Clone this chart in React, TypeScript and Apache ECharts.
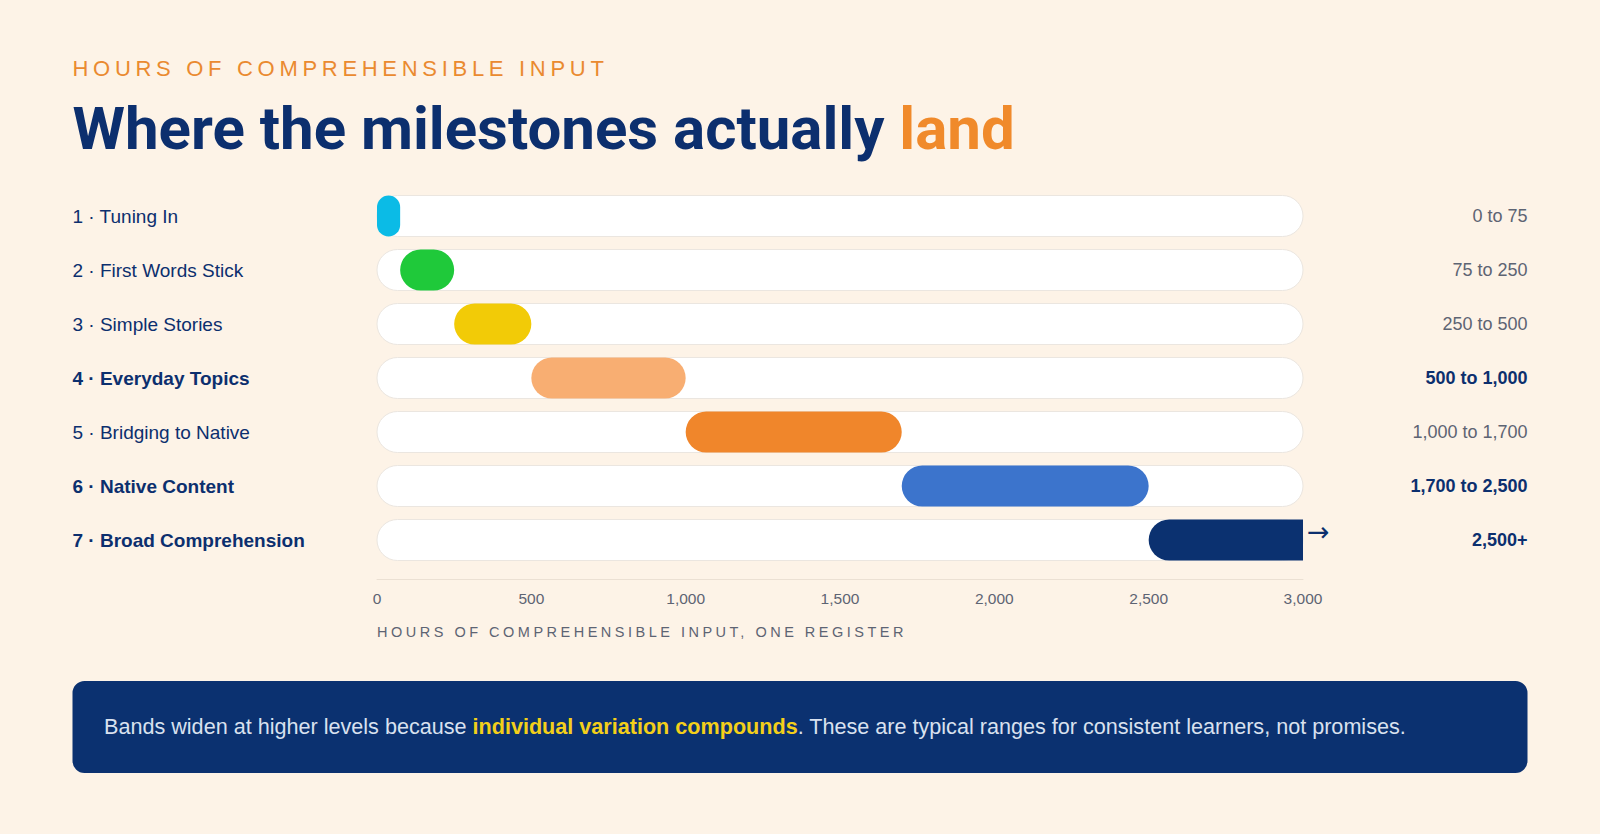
import React, { useEffect, useRef } from 'react';
import * as echarts from 'echarts';

// milestone bands, hours of comprehensible input
const stages = [
  '1 · Tuning In',
  '2 · First Words Stick',
  '3 · Simple Stories',
  '4 · Everyday Topics',
  '5 · Bridging to Native',
  '6 · Native Content',
  '7 · Broad Comprehension',
];
const bandStart = [0, 75, 250, 500, 1000, 1700, 2500];
const bandEnd = [75, 250, 500, 1000, 1700, 2500, 3000]; // last band is open-ended, capped at axis max
const openEnded = [false, false, false, false, false, false, true];
const rangeLabels = ['0 to 75', '75 to 250', '250 to 500', '500 to 1,000', '1,000 to 1,700', '1,700 to 2,500', '2,500+'];
const highlighted = [false, false, false, true, false, true, true];
const bandColors = ['#0bbbe6', '#1fc93a', '#f2cb07', '#f8ae72', '#f0862b', '#3c74cc', '#0b3170'];

const NAVY = '#0c2f6e';
const GREY = '#5d6473';
const FONT = '"Liberation Sans", Arial, sans-serif';

const SUBTITLE = 'HOURS OF COMPREHENSIBLE INPUT';
const AXIS_NAME = 'HOURS OF COMPREHENSIBLE INPUT, ONE REGISTER';

// zrender has no letter-spacing, so set it on the svg texts afterwards
const SPACING: { [key: string]: string } = {
  [SUBTITLE]: '4.7',
  [AXIS_NAME]: '3.5',
};

const App: React.FC = () => {
  const chartRef = useRef<HTMLDivElement>(null);

  useEffect(() => {
    if (!chartRef.current) return;
    const chart = echarts.init(chartRef.current, undefined, { renderer: 'svg' });

    const barH = 41;
    const radius = barH / 2;

    const options: echarts.EChartsOption = {
      animation: false,
      backgroundColor: '#fdf3e7',
      textStyle: { fontFamily: FONT },
      grid: { left: 377, right: 297, top: 189, height: 378 },
      xAxis: {
        type: 'value',
        min: 0,
        max: 3000,
        interval: 500,
        offset: 12,
        axisLine: { show: true, lineStyle: { color: '#ebe0d3', width: 1 } },
        axisTick: { show: false },
        splitLine: { show: false },
        axisLabel: {
          color: GREY,
          fontSize: 15.5,
          margin: 11,
          formatter: (v: number) => v.toLocaleString('en-US'),
        },
      },
      yAxis: [
        {
          type: 'category',
          data: stages,
          inverse: true,
          axisLine: { show: false },
          axisTick: { show: false },
          axisLabel: {
            align: 'left',
            margin: 304.5,
            formatter: (v: string, i: number) => (highlighted[i] ? `{b|${v}}` : `{n|${v}}`),
            rich: {
              n: { fontSize: 19, color: NAVY, fontFamily: FONT },
              b: { fontSize: 19, color: NAVY, fontWeight: 'bold', fontFamily: FONT },
            },
          },
        },
        {
          type: 'category',
          data: rangeLabels,
          inverse: true,
          position: 'right',
          axisLine: { show: false },
          axisTick: { show: false },
          axisLabel: {
            align: 'right',
            margin: 224.6,
            formatter: (v: string, i: number) => (highlighted[i] ? `{b|${v}}` : `{n|${v}}`),
            rich: {
              n: { fontSize: 18, color: GREY, fontFamily: FONT },
              b: { fontSize: 18, color: NAVY, fontWeight: 'bold', fontFamily: FONT },
            },
          },
        },
      ],
      series: [
        {
          type: 'bar',
          stack: 'band',
          barWidth: barH,
          silent: true,
          data: bandStart,
          itemStyle: { color: 'transparent' },
          showBackground: true,
          backgroundStyle: {
            color: '#ffffff',
            borderColor: '#ebe6e0',
            borderWidth: 1,
            borderRadius: radius,
          },
        },
        {
          type: 'bar',
          stack: 'band',
          barWidth: barH,
          data: bandEnd.map((end, i) => ({
            value: end - bandStart[i],
            itemStyle: {
              color: bandColors[i],
              borderRadius: openEnded[i] ? [radius, 0, 0, radius] : radius,
            },
            label: openEnded[i]
              ? {
                  show: true,
                  position: 'right',
                  distance: 4,
                  offset: [0, -9],
                  formatter: '→',
                  color: NAVY,
                  fontSize: 27,
                  fontFamily: 'DejaVu Sans',
                }
              : { show: false },
          })),
        },
      ],
      graphic: [
        {
          type: 'text',
          x: 72.5,
          y: 68.5,
          style: {
            text: SUBTITLE,
            fontSize: 22,
            fontFamily: FONT,
            fill: '#ea8a30',
            verticalAlign: 'middle',
          },
        },
        {
          type: 'text',
          x: 72.5,
          y: 128.5,
          style: {
            text: 'Where the milestones actually {o|land}',
            fontSize: 60,
            fontWeight: 'bold',
            fontFamily: 'Roboto',
            fill: NAVY,
            verticalAlign: 'middle',
            rich: {
              o: { fontSize: 60, fontWeight: 'bold', fontFamily: 'Roboto', fill: '#f08a2b' },
            },
          },
        },
        {
          type: 'text',
          x: 377,
          y: 632,
          style: {
            text: AXIS_NAME,
            fontSize: 14.5,
            fontFamily: FONT,
            fill: GREY,
            verticalAlign: 'middle',
          },
        },
        {
          type: 'rect',
          shape: { x: 72.5, y: 681, width: 1455, height: 92, r: 12 },
          style: { fill: '#0b3170' },
        },
        {
          type: 'text',
          x: 104,
          y: 726,
          style: {
            text:
              '{n|Bands widen at higher levels because }{y|individual variation compounds}{n|. These are typical ranges for consistent learners, not promises.}',
            fontSize: 21.6,
            fontFamily: FONT,
            verticalAlign: 'middle',
            rich: {
              n: { fontSize: 21.6, fontFamily: FONT, fill: '#d9e1ef' },
              y: { fontSize: 21.6, fontFamily: FONT, fontWeight: 'bold', fill: '#f3cf1a' },
            },
          },
        },
      ],
    };

    const spaceOut = () => {
      chartRef.current?.querySelectorAll('text').forEach((t) => {
        const s = SPACING[t.textContent || ''];
        if (s) t.setAttribute('letter-spacing', s);
      });
    };

    chart.on('finished', spaceOut);
    chart.setOption(options);
    spaceOut();

    return () => {
      chart.dispose();
    };
  }, []);

  return (
    <div
      ref={chartRef}
      style={{ position: 'fixed', left: 0, top: 0, width: '100vw', height: '100vh' }}
    />
  );
};

export default App;
